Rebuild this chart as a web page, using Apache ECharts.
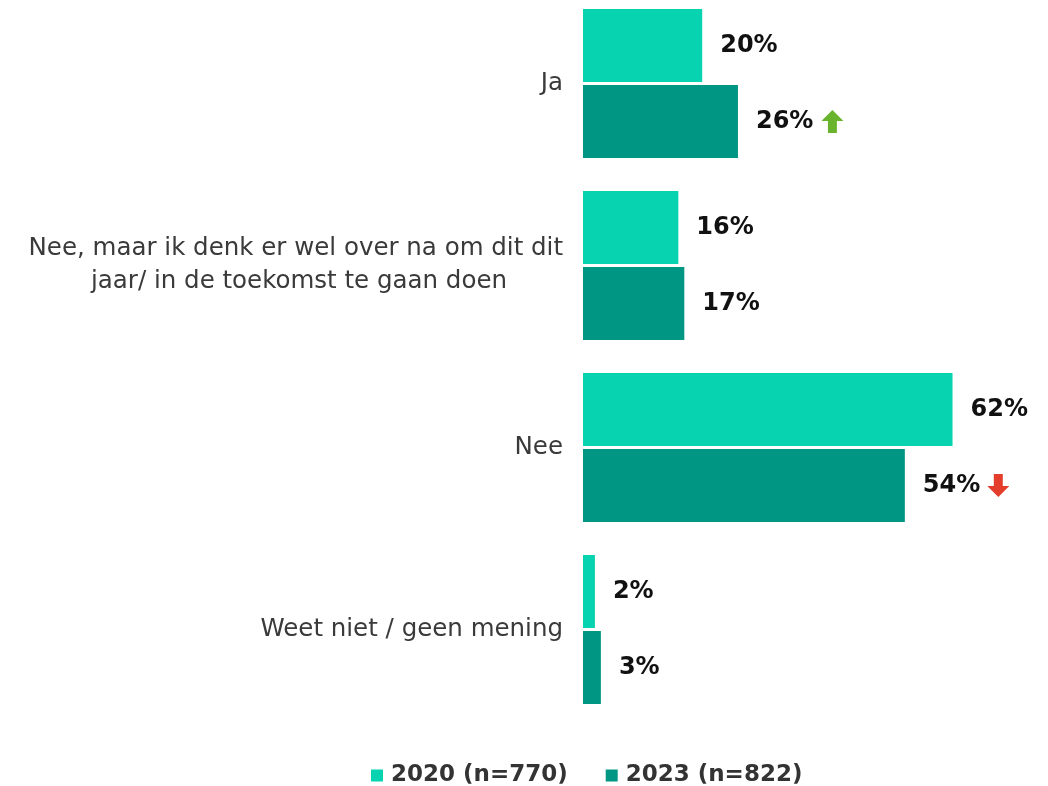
<!DOCTYPE html>
<html><head><meta charset="utf-8">
<script src="https://cdn.jsdelivr.net/npm/echarts@6/dist/echarts.min.js"></script>
<style>html,body{margin:0;padding:0;background:#fff}#c{width:1048px;height:786px}</style>
</head><body><div id="c"></div>
<script>
const categories = ['Ja', 'Nee, maar ik denk er wel over na om dit dit\njaar/ in de toekomst te gaan doen', 'Nee', 'Weet niet / geen mening'];
const seriesNames = ['2020 (n=770)', '2023 (n=822)'];
const values2020 = [20, 16, 62, 2];
const values2023 = [26, 17, 54, 3];
const trend2023 = ['up', '', 'down', ''];

const upSvg = 'data:image/svg+xml;utf8,' + encodeURIComponent('<svg xmlns="http://www.w3.org/2000/svg" width="22" height="23" viewBox="0 0 22 23"><path d="M11 0 L22 11 L15.5 11 L15.5 23 L6.5 23 L6.5 11 L0 11 Z" fill="#6ab42d"/></svg>');
const downSvg = 'data:image/svg+xml;utf8,' + encodeURIComponent('<svg xmlns="http://www.w3.org/2000/svg" width="22" height="23" viewBox="0 0 22 23"><path d="M6.5 0 L15.5 0 L15.5 12 L22 12 L11 23 L0 12 L6.5 12 Z" fill="#e43d2b"/></svg>');

const chart = echarts.init(document.getElementById('c'));
const font = '"DejaVu Sans", "Open Sans", sans-serif';
const valueLabel = {
  show: true, position: 'right', distance: 18,
  fontFamily: font, fontSize: 24, fontWeight: 'bold', color: '#111'
};
chart.setOption({
  animation: false,
  textStyle: { fontFamily: font },
  legend: {
    top: 759, left: 366, itemWidth: 12, itemHeight: 12, itemGap: 38,
    icon: 'rect',
    textStyle: { fontFamily: font, fontSize: 23, fontWeight: 'bold', color: '#333', padding: [0, 0, 0, 3] },
    data: seriesNames
  },
  grid: { left: 583, top: 83.5, height: 546, right: 18, containLabel: false },
  xAxis: { type: 'value', min: 0, max: 75, show: false },
  yAxis: {
    type: 'category', inverse: true, data: categories, boundaryGap: false,
    axisLine: { show: false }, axisTick: { show: false }, splitLine: { show: false },
    axisLabel: {
      margin: 20, fontFamily: font, fontSize: 24.5, color: '#3a3a3a', lineHeight: 33, align: 'right',
      formatter: function (v) {
        const parts = v.split('\n');
        if (parts.length === 1) return '{a|' + v + '}';
        return '{a|' + parts[0] + '}\n{b|' + parts[1] + '}';
      },
      rich: {
        a: { fontFamily: font, fontSize: 24.5, color: '#3a3a3a', lineHeight: 33 },
        b: { fontFamily: font, fontSize: 24.5, color: '#3a3a3a', lineHeight: 33, padding: [0, 56, 0, 0] }
      }
    }
  },
  series: [
    {
      name: seriesNames[0], type: 'bar', data: values2020,
      barWidth: 73, barGap: '4.1%',
      itemStyle: { color: '#07d3b1' },
      label: Object.assign({}, valueLabel, { formatter: '{c}%' })
    },
    {
      name: seriesNames[1], type: 'bar', data: values2023,
      barWidth: 73, barGap: '4.1%',
      itemStyle: { color: '#009684' },
      label: Object.assign({}, valueLabel, {
        formatter: function (p) {
          const t = trend2023[p.dataIndex];
          if (t === 'up') return '{v|' + p.value + '%}{sp|}{up|}';
          if (t === 'down') return '{v|' + p.value + '%}{sp2|}{down|}';
          return '{v|' + p.value + '%}';
        },
        rich: {
          v: { fontFamily: font, fontSize: 24, fontWeight: 'bold', color: '#111' },
          sp: { width: 8, height: 1 },
          sp2: { width: 7, height: 1 },
          up: { width: 22, height: 23, backgroundColor: { image: upSvg } },
          down: { width: 22, height: 23, backgroundColor: { image: downSvg } }
        }
      })
    }
  ]
});
</script></body></html>
